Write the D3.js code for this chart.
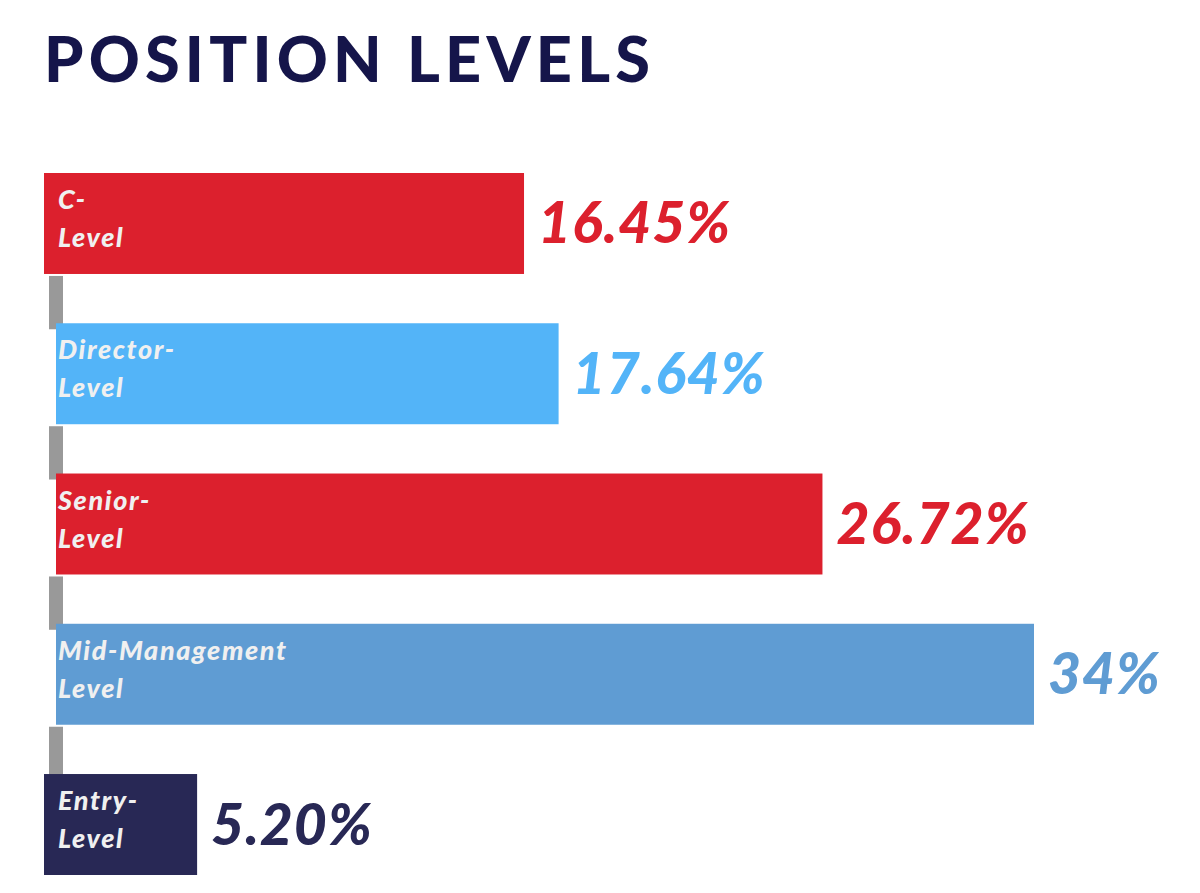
<!DOCTYPE html>
<html>
<head>
<meta charset="utf-8">
<script src="https://cdn.jsdelivr.net/npm/d3@7"></script>
<style>
  html, body { margin: 0; padding: 0; background: #fff; }
  svg { display: block; }
</style>
</head>
<body>
<svg id="chart"></svg>
<script>
// position levels, share of respondents (%)
const levels = ["C-Level", "Director-Level", "Senior-Level", "Mid-Management Level", "Entry-Level"];
const labelLines = [["C-", "Level"], ["Director-", "Level"], ["Senior-", "Level"], ["Mid-Management", "Level"], ["Entry-", "Level"]];
const shares = [16.45, 17.64, 26.72, 34, 5.20];
const shareLabels = ["16.45%", "17.64%", "26.72%", "34%", "5.20%"];
const barColors = ["#dc202d", "#53b4f8", "#dc202d", "#5f9cd3", "#282855"];

const width = 1200;
const height = 893;

const svg = d3.select("#chart")
    .attr("width", width)
    .attr("height", height);

svg.append("text")
    .attr("x", 44)
    .attr("y", 82)
    .attr("fill", "#15154a")
    .style("font-family", "Lato, 'Open Sans', sans-serif")
    .style("font-weight", 900)
    .style("font-size", "63px")
    .attr("textLength", 606)
    .attr("lengthAdjust", "spacing")
    .text("POSITION LEVELS");

const x = d3.scaleLinear()
    .domain([0, d3.max(shares)])
    .range([46, 1034]);

const y = d3.scaleBand()
    .domain(levels)
    .range([173, 875])
    .paddingInner(0.328)
    .paddingOuter(0);

const rows = levels.map((name, i) => ({
    name,
    lines: labelLines[i],
    value: shares[i],
    label: shareLabels[i],
    color: barColors[i],
    // first and last bars sit a little further left than the middle ones
    x0: (i === 0 || i === levels.length - 1) ? x(0) - 2 : x(0) + 10
}));

// grey connectors between consecutive bars (drawn under the bars)
svg.append("g")
    .selectAll("rect")
    .data(rows.slice(1))
    .join("rect")
    .attr("x", x(0) + 3)
    .attr("width", 14)
    .attr("y", (d, i) => y(rows[i].name) + y.bandwidth() + 2)
    .attr("height", (d, i) => y(d.name) + 6 - (y(rows[i].name) + y.bandwidth() + 2))
    .attr("fill", "#999999");

const row = svg.append("g")
    .selectAll("g")
    .data(rows)
    .join("g");

row.append("rect")
    .attr("x", d => d.x0)
    .attr("y", d => y(d.name))
    .attr("width", d => x(d.value) - d.x0)
    .attr("height", y.bandwidth())
    .attr("fill", d => d.color);

row.append("text")
    .attr("fill", "#f0f0f0")
    .style("font-family", "Lato, 'Open Sans', sans-serif")
    .style("font-weight", 900)
    .style("font-style", "italic")
    .style("font-size", "27px")
    .style("letter-spacing", "1.6px")
    .selectAll("tspan")
    .data(d => d.lines.map((t, k) => ({ t, k, top: y(d.name) })))
    .join("tspan")
    .attr("x", 58)
    .attr("y", d => d.top + 36 + d.k * 38)
    .text(d => d.t);

row.append("text")
    .attr("x", d => x(d.value) + 14)
    .attr("y", d => y(d.name) + y.bandwidth() / 2 + 20)
    .attr("fill", d => d.color)
    .style("font-family", "Lato, 'Open Sans', sans-serif")
    .style("font-weight", 900)
    .style("font-style", "italic")
    .style("font-size", "57px")
    .style("letter-spacing", "1px")
    .text(d => d.label);
</script>
</body>
</html>
